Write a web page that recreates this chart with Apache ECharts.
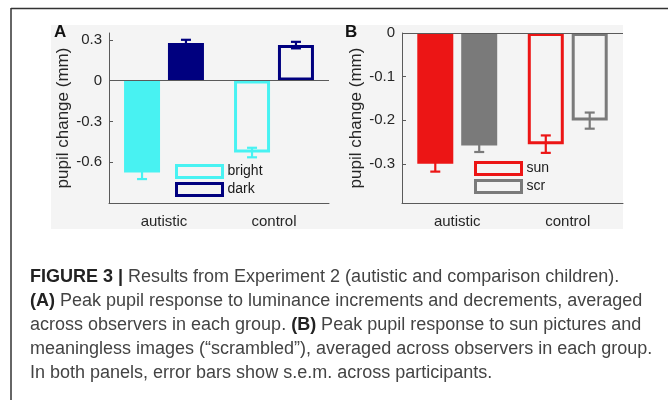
<!DOCTYPE html>
<html>
<head>
<meta charset="utf-8">
<script src="https://cdn.jsdelivr.net/npm/echarts@6/dist/echarts.min.js"></script>
<style>
html,body{margin:0;padding:0;background:#fff;}
#chart{width:668px;height:400px;}
</style>
</head>
<body>
<div id="chart"></div>
<script>
// ---- data ----
const groups = ['autistic', 'control'];
const brightVals = [-0.675, -0.529];
const brightErr = [0.049, 0.035];
const darkVals = [0.276, 0.261];
const darkErr = [0.024, 0.024];
const sunVals = [-0.300, -0.255];
const sunErr = [0.018, 0.020];
const scrVals = [-0.258, -0.201];
const scrErr = [0.015, 0.0185];
const ticksA = [-0.6, -0.3, 0, 0.3];
const ticksB = [-0.3, -0.2, -0.1, 0];
const captionLines = [
  '{b|FIGURE 3 |} Results from Experiment 2 (autistic and comparison children).',
  '{b|(A)} Peak pupil response to luminance increments and decrements, averaged',
  'across observers in each group. {b|(B)} Peak pupil response to sun pictures and',
  'meaningless images (\u201cscrambled\u201d), averaged across observers in each group.',
  'In both panels, error bars show s.e.m. across participants.'
];

// ---- style ----
const CYAN = '#48f2f2', NAVY = '#00007f', RED = '#ec1515', GRAY = '#7a7a7a';
const AXIS = '#5a5a5a', TXT = '#262626';
const FONT = '"Liberation Sans", Arial, Helvetica, sans-serif';
const BAR_W = 36, GAP_RATIO = 0.22;
const OFF = BAR_W * (1 + GAP_RATIO) / 2;

const chart = echarts.init(document.getElementById('chart'));

function barData(vals, color) {
  return vals.map((v, i) => ({
    value: v,
    itemStyle: i === 0 ? { color: color, borderColor: color, borderWidth: 0 }
                       : { color: 'transparent', borderColor: color, borderWidth: 3 }
  }));
}
function errSeries(vals, errs, color, xi, side) {
  return {
    type: 'custom', xAxisIndex: xi, yAxisIndex: xi, z: 1, silent: true,
    data: vals.map((v, i) => [i, v, errs[i]]),
    renderItem: function (params, api) {
      const c = api.value(0), v = api.value(1), e = api.value(2);
      const hi = api.coord([c, v + e]);
      const lo = api.coord([c, v - e]);
      const x = hi[0] + side * OFF;
      const cw = 5;
      const st = { stroke: color, lineWidth: 2.2 };
      return { type: 'group', children: [
        { type: 'line', shape: { x1: x, y1: hi[1], x2: x, y2: lo[1] }, style: st },
        { type: 'line', shape: { x1: x - cw, y1: hi[1], x2: x + cw, y2: hi[1] }, style: st },
        { type: 'line', shape: { x1: x - cw, y1: lo[1], x2: x + cw, y2: lo[1] }, style: st }
      ]};
    }
  };
}
function xAx(gi) {
  return {
    gridIndex: gi, type: 'category', data: groups,
    axisLine: { onZero: false, lineStyle: { color: AXIS, width: 1 } },
    axisTick: { alignWithLabel: true, inside: true, length: 4, lineStyle: { color: AXIS } },
    axisLabel: { fontSize: 15, color: TXT, fontFamily: FONT, margin: 11 },
    splitLine: { show: false }
  };
}
function yAx(gi, min, max, ticks) {
  return {
    gridIndex: gi, type: 'value', min: min, max: max,
    axisLine: { show: true, lineStyle: { color: AXIS, width: 1 } },
    axisTick: { show: true, inside: true, length: 4, customValues: ticks, lineStyle: { color: AXIS } },
    axisLabel: { customValues: ticks, fontSize: 15, color: TXT, fontFamily: FONT, margin: 7 },
    splitLine: { show: false },
    name: 'pupil change (mm)', nameLocation: 'middle', nameGap: 37,
    nameTextStyle: { fontSize: 17, color: TXT, fontFamily: FONT }
  };
}
const zeroLine = {
  silent: true, symbol: 'none', label: { show: false },
  lineStyle: { color: AXIS, width: 1, type: 'solid' },
  emphasis: { disabled: true },
  data: [{ yAxis: 0 }]
};
function legendData(names, colors) {
  return names.map((n, i) => ({
    name: n, icon: 'rect',
    itemStyle: { color: 'transparent', borderColor: colors[i], borderWidth: 3 }
  }));
}

const graphics = [
  { type: 'rect', z: -100, shape: { x: 51, y: 25, width: 572, height: 204 }, style: { fill: '#f4f4f4' } },
  { type: 'line', shape: { x1: 11, y1: 8.5, x2: 668, y2: 8.5 }, style: { stroke: '#333', lineWidth: 1.5 } },
  { type: 'line', shape: { x1: 11, y1: 8, x2: 11, y2: 400 }, style: { stroke: '#333', lineWidth: 1.5 } },
  { type: 'text', x: 54, y: 24, style: { text: 'A', font: 'bold 17px ' + FONT, fill: '#111' } },
  { type: 'text', x: 345, y: 24, style: { text: 'B', font: 'bold 17px ' + FONT, fill: '#111' } }
];
const lineY = [277, 301, 325, 349, 373];
captionLines.forEach((t, i) => {
  graphics.push({
    type: 'text', x: 30, y: lineY[i],
    style: {
      text: t, fill: '#444', fontSize: 18, fontFamily: FONT, verticalAlign: 'middle',
      rich: { b: { fontWeight: 'bold', fill: '#222', fontSize: 18, fontFamily: FONT } }
    }
  });
});

const option = {
  animation: false,
  textStyle: { fontFamily: FONT },
  grid: [
    { left: 109, top: 33, width: 220, height: 170 },
    { left: 402, top: 33, width: 221, height: 170 }
  ],
  xAxis: [xAx(0), xAx(1)],
  yAxis: [yAx(0, -0.9, 0.35, ticksA), yAx(1, -0.39, 0, ticksB)],
  legend: [
    { data: legendData(['bright', 'dark'], [CYAN, NAVY]), orient: 'vertical', left: 175, top: 164,
      itemWidth: 46, itemHeight: 12, itemGap: 3, padding: 0, selectedMode: false,
      textStyle: { fontSize: 14, color: '#1a1a1a', fontFamily: FONT } },
    { data: legendData(['sun', 'scr'], [RED, GRAY]), orient: 'vertical', left: 474, top: 161,
      itemWidth: 46, itemHeight: 12, itemGap: 3, padding: 0, selectedMode: false,
      textStyle: { fontSize: 14, color: '#1a1a1a', fontFamily: FONT } }
  ],
  series: [
    errSeries(brightVals, brightErr, CYAN, 0, -1),
    errSeries(darkVals, darkErr, NAVY, 0, 1),
    errSeries(sunVals, sunErr, RED, 1, -1),
    errSeries(scrVals, scrErr, GRAY, 1, 1),
    { name: 'bright', type: 'bar', xAxisIndex: 0, yAxisIndex: 0, barWidth: BAR_W, barGap: (GAP_RATIO * 100) + '%',
      itemStyle: { color: CYAN }, data: barData(brightVals, CYAN), markLine: zeroLine, z: 2 },
    { name: 'dark', type: 'bar', xAxisIndex: 0, yAxisIndex: 0, barWidth: BAR_W, barGap: (GAP_RATIO * 100) + '%',
      itemStyle: { color: NAVY }, data: barData(darkVals, NAVY), z: 2 },
    { name: 'sun', type: 'bar', xAxisIndex: 1, yAxisIndex: 1, barWidth: BAR_W, barGap: (GAP_RATIO * 100) + '%',
      itemStyle: { color: RED }, data: barData(sunVals, RED), markLine: zeroLine, z: 2 },
    { name: 'scr', type: 'bar', xAxisIndex: 1, yAxisIndex: 1, barWidth: BAR_W, barGap: (GAP_RATIO * 100) + '%',
      itemStyle: { color: GRAY }, data: barData(scrVals, GRAY), z: 2 }
  ],
  graphic: { elements: graphics }
};
chart.setOption(option);
</script>
</body>
</html>
